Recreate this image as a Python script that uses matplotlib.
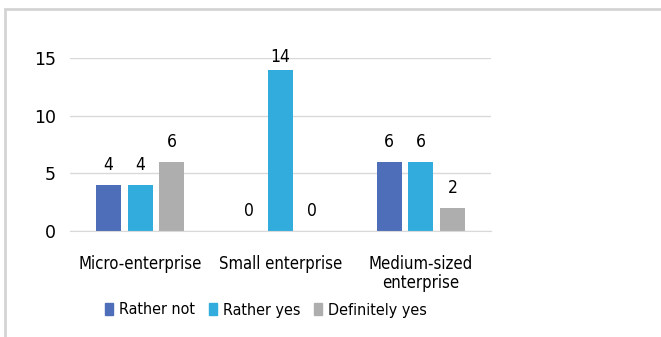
import numpy as np
import matplotlib.pyplot as plt
from matplotlib.patches import Rectangle, Patch

categories = ["Micro-enterprise", "Small enterprise", "Medium-sized\nenterprise"]
series = ["Rather not", "Rather yes", "Definitely yes"]
rather_not = [4, 0, 6]
rather_yes = [4, 14, 6]
definitely_yes = [6, 0, 2]
colors = ["#4E6EB9", "#31ACDD", "#AEAEAE"]

plt.rcParams["font.family"] = "DejaVu Sans"
fs = 12

W, H = 661, 337
fig = plt.figure(figsize=(W / 100, H / 100), dpi=100)
fig.patches.append(
    Rectangle((5 / W, -0.1), 1.1, (H - 9) / H + 0.1, transform=fig.transFigure,
              fill=False, edgecolor="#D4D4D4", lw=2)
)
ax = fig.add_axes([70 / W, (H - 231) / H, 421 / W, 173 / H])

ymax = 15
x = np.arange(len(categories))
bw = 0.18
step = 0.225
for i, (vals, name) in enumerate(zip([rather_not, rather_yes, definitely_yes], series)):
    pos = x + (i - 1) * step
    ax.bar(pos, vals, width=bw, color=colors[i], label=name, zorder=2)
    for p, v in zip(pos, vals):
        # label sits above the bar but is kept inside the chart area
        ax.text(p, min(v + 1.7, ymax + 0.1), str(v), ha="center", va="center",
                fontsize=fs + 0.5, stretch="condensed")

ax.set_xlim(-0.5, 2.5)
ax.set_ylim(0, ymax)
ax.set_yticks([0, 5, 10, 15])
ax.yaxis.grid(True, color="#D9D9D9", lw=1, zorder=0)
ax.set_xticks(x)
ax.set_xticklabels(categories, fontsize=fs, stretch="condensed", linespacing=1.1)
ax.tick_params(axis="y", labelsize=fs + 0.5, length=0, pad=10)
ax.tick_params(axis="x", length=0, pad=17)
for s in ["top", "right", "left"]:
    ax.spines[s].set_visible(False)
ax.spines["bottom"].set_color("#D9D9D9")

handles = [Patch(color=c) for c in colors]
leg = fig.legend(handles, series, loc="center", bbox_to_anchor=(266 / W, 1 - 310 / H),
                 ncol=3, frameon=False, fontsize=fs - 0.5, handlelength=0.5, handleheight=0.7,
                 handletextpad=0.35, columnspacing=0.9)
for t in leg.get_texts():
    t.set_fontstretch("condensed")

fig.savefig("out.png", dpi=100)
